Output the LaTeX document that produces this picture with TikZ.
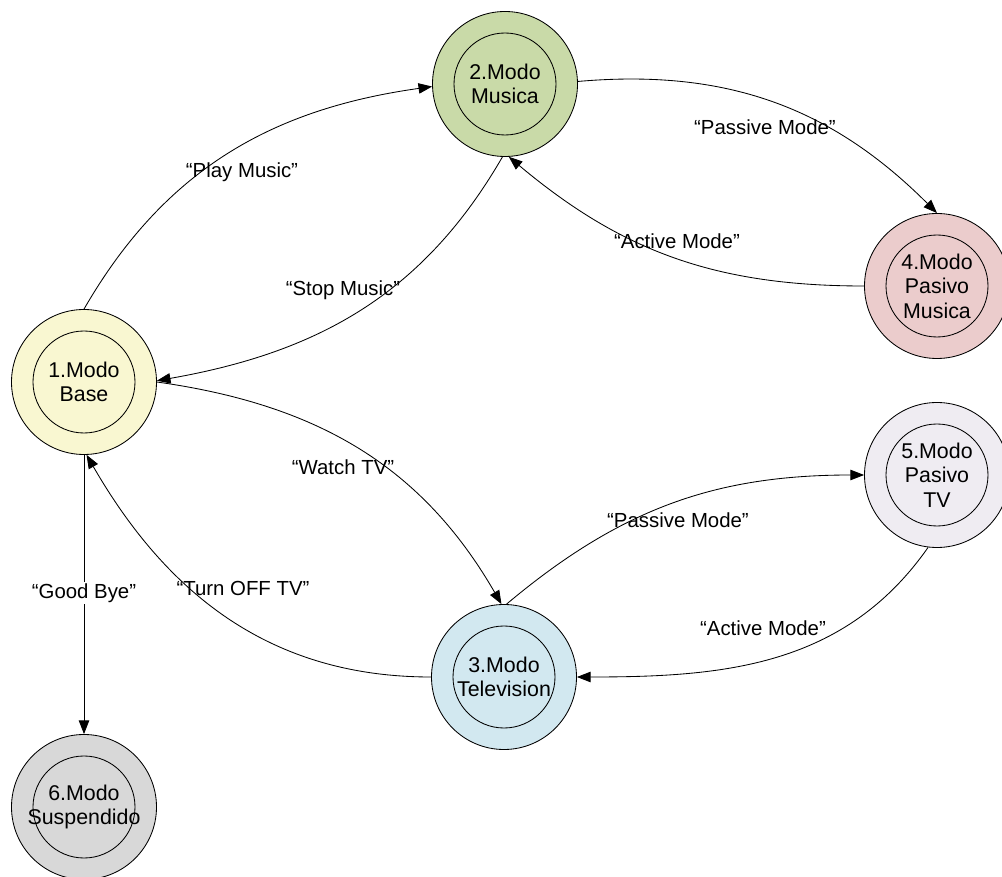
\documentclass[tikz,border=0pt]{standalone}
\usepackage{fontspec}
\setmainfont{Liberation Sans}
\usepackage{tikz}
\usetikzlibrary{arrows.meta}
\definecolor{basefill}{RGB}{249,247,209}
\definecolor{musicfill}{RGB}{201,218,168}
\definecolor{tvfill}{RGB}{210,232,240}
\definecolor{pmusicfill}{RGB}{235,204,204}
\definecolor{ptvfill}{RGB}{239,236,242}
\definecolor{suspfill}{RGB}{216,216,216}
\tikzset{
  mode/.style={
    circle, draw, line width=0.6pt, minimum size=3.625cm,
    inner sep=0pt, align=center, font=\fontsize{15.2}{17.5}\selectfont,
    path picture={\draw[line width=0.6pt] (path picture bounding box.center) circle (1.275cm);}
  },
  trans/.style={draw, line width=0.6pt, -{Triangle[length=0.34cm, width=0.26cm]}},
  lbl/.style={font=\fontsize{14.5}{17}\selectfont, inner sep=1pt},
}
\begin{document}
\begin{tikzpicture}
  \useasboundingbox (0,0) rectangle (25.05,21.9);
  % states
  \node[mode, fill=basefill]   (base)    at (2.1,12.35)    {1.Modo\\Base};
  \node[mode, fill=musicfill]  (musica)  at (12.625,19.8)  {2.Modo\\Musica};
  \node[mode, fill=tvfill]     (tele)    at (12.6,4.975)   {3.Modo\\Television};
  \node[mode, fill=pmusicfill] (pmusica) at (23.425,14.75) {4.Modo\\Pasivo\\Musica};
  \node[mode, fill=ptvfill]    (ptv)     at (23.425,10.025) {5.Modo\\Pasivo\\TV};
  \node[mode, fill=suspfill]   (susp)    at (2.1,1.725)    {6.Modo\\Suspendido};
  % transitions
  \draw[trans] (base.90) to[out=60, in=188] (musica.182);
  \draw[trans] (musica.-92) to[out=240, in=10] (base.1);
  \draw[trans] (musica.2) to[out=5, in=135] (pmusica.90);
  \draw[trans] (pmusica.180) to[out=180, in=-40] (musica.-87);
  \draw[trans] (base.0) to[out=-8, in=120] (tele.92);
  \draw[trans] (tele.180) to[out=180, in=-60] (base.-88);
  \draw[trans] (tele.88) to[out=40, in=180] (ptv.180);
  \draw[trans] (ptv.-97) to[out=235, in=0] (tele.0);
  \draw[trans] (base) -- (susp);
  % labels
  \node[lbl] (lplay)  at (6.05,17.6)   {“Play Music”};
  \node[lbl] (lstop)  at (8.575,14.65) {“Stop Music”};
  \node[lbl] (lpasm)  at (19.125,18.725) {“Passive Mode”};
  \node[lbl] (lactm)  at (16.925,15.875) {“Active Mode”};
  \node[lbl] (lwatch) at (8.575,10.225) {“Watch TV”};
  \node[lbl] (loff)   at (6.075,7.2)   {“Turn OFF TV”};
  \node[lbl] (lpast)  at (16.95,8.9)   {“Passive Mode”};
  \node[lbl] (lactt)  at (19.075,6.2)  {“Active Mode”};
  \node[lbl, fill=white] (lbye) at (2.1,7.075) {“Good Bye”};
\end{tikzpicture}
\end{document}
